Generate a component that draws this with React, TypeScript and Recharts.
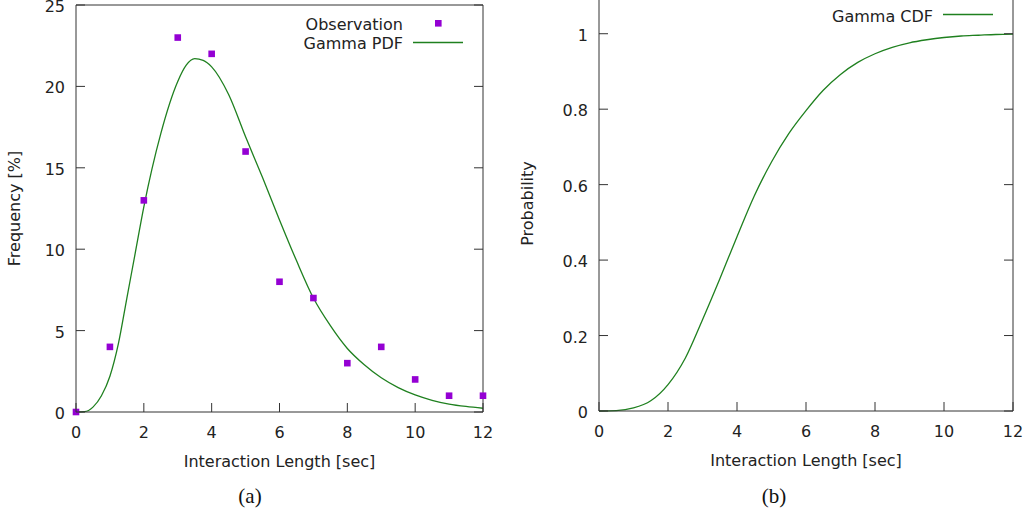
import React from 'react';
import { ComposedChart, Line, Scatter, XAxis, YAxis } from 'recharts';

// observed frequencies (%) per second of interaction length
const obsX = [0, 1, 2, 3, 4, 5, 6, 7, 8, 9, 10, 11, 12];
const obsFreq = [0, 4, 13, 23, 22, 16, 8, 7, 3, 4, 2, 1, 1];

// fitted gamma pdf (%)
const pdfX = [0, 0.25, 0.5, 0.75, 1, 1.25, 1.5, 1.75, 2, 2.5, 3, 3.25, 3.5, 3.75, 4, 4.5, 5, 5.5, 6, 6.5, 7, 7.5, 8, 8.5, 9, 9.5, 10, 10.5, 11, 11.5, 12];
const pdfY = [0, 0.02, 0.3, 1.0, 2.2, 4.2, 7.0, 9.8, 12.6, 17.1, 20.3, 21.3, 21.7, 21.6, 21.2, 19.5, 16.9, 14.4, 11.8, 9.3, 7.0, 5.3, 3.9, 2.9, 2.1, 1.5, 1.05, 0.72, 0.49, 0.34, 0.23];

// fitted gamma cdf
const cdfX = [0, 0.5, 1, 1.5, 2, 2.5, 3, 3.5, 4, 4.5, 5, 5.5, 6, 6.5, 7, 7.5, 8, 8.5, 9, 9.5, 10, 10.5, 11, 11.5, 12];
const cdfY = [0, 0.001, 0.008, 0.027, 0.07, 0.14, 0.242, 0.35, 0.462, 0.57, 0.66, 0.735, 0.796, 0.85, 0.892, 0.924, 0.947, 0.964, 0.976, 0.984, 0.99, 0.994, 0.996, 0.998, 0.999];

const xTicks = [0, 2, 4, 6, 8, 10, 12];
const freqTicks = [0, 5, 10, 15, 20, 25];
const probTicks = [0, 0.2, 0.4, 0.6, 0.8, 1];

const obsData = obsX.map((x, i) => ({ x, y: obsFreq[i] }));
const pdfData = pdfX.map((x, i) => ({ x, y: pdfY[i] }));
const cdfData = cdfX.map((x, i) => ({ x, y: cdfY[i] }));

const AXIS = '#333';
const GREEN = '#1f801f';
const PURPLE = '#9400d3';
const font = { fontFamily: '"DejaVu Sans"', fontSize: 16, fill: '#222' };

const BottomTick = ({ x, y, payload }: any) => (
  <g>
    <line x1={x} x2={x} y1={y} y2={y - 9} stroke={AXIS} />
    <text x={x} y={y + 26} textAnchor="middle" {...font}>{payload.value}</text>
  </g>
);
const TopTick = ({ x, y }: any) => <line x1={x} x2={x} y1={y} y2={y + 9} stroke={AXIS} />;
const LeftTick = ({ x, y, payload }: any) => (
  <g>
    <line x1={x} x2={x + 9} y1={y} y2={y} stroke={AXIS} />
    <text x={x - 11} y={y + 7} textAnchor="end" {...font}>{payload.value}</text>
  </g>
);
const RightTick = ({ x, y }: any) => <line x1={x} x2={x - 9} y1={y} y2={y} stroke={AXIS} />;

const Square = ({ cx, cy }: any) => <rect x={cx - 3.3} y={cy - 3.3} width={6.6} height={6.6} fill={PURPLE} />;

const xTitle = ({ viewBox }: any) => (
  <text x={viewBox.x + viewBox.width / 2} y={viewBox.y + 55} textAnchor="middle" {...font}>
    Interaction Length [sec]
  </text>
);
const yTitle = (text: string, dist: number) => ({ viewBox }: any) => {
  const cx = viewBox.x - dist;
  const cy = viewBox.y + viewBox.height / 2;
  return (
    <text x={cx} y={cy} transform={`rotate(-90, ${cx}, ${cy})`} textAnchor="middle" {...font}>
      {text}
    </text>
  );
};

// axes are 1px thick boxes (0 would hide them), margins account for that
const Frame = (yDomain: number[], yTicks: number[], title: any) => [
  <XAxis key="xb" xAxisId="b" dataKey="x" type="number" domain={[0, 12]} ticks={xTicks} interval={0}
    height={1} tickSize={0} tickMargin={0} tickLine={false} stroke={AXIS}
    tick={(p: any) => <BottomTick {...p} />} label={{ content: xTitle }} />,
  <XAxis key="xt" xAxisId="t" orientation="top" type="number" domain={[0, 12]} ticks={xTicks} interval={0}
    allowDataOverflow height={1} tickSize={0} tickMargin={0} tickLine={false} stroke={AXIS}
    tick={(p: any) => <TopTick {...p} />} />,
  <YAxis key="yl" yAxisId="l" type="number" domain={yDomain} ticks={yTicks} interval={0}
    width={1} tickSize={0} tickMargin={0} tickLine={false} stroke={AXIS}
    tick={(p: any) => <LeftTick {...p} />} label={{ content: title }} />,
  <YAxis key="yr" yAxisId="r" orientation="right" type="number" domain={yDomain} ticks={yTicks} interval={0}
    allowDataOverflow width={1} tickSize={0} tickMargin={0} tickLine={false} stroke={AXIS}
    tick={(p: any) => <RightTick {...p} />} />,
];

const PdfChart = () => (
  <ComposedChart width={500} height={480} margin={{ top: 4, left: 75, right: 16, bottom: 67 }}>
    {Frame([0, 25], freqTicks, yTitle('Frequency [%]', 55))}
    <Line data={pdfData} xAxisId="b" yAxisId="l" type="monotone" dataKey="y" stroke={GREEN}
      strokeWidth={1.3} dot={false} isAnimationActive={false} />
    <Scatter data={obsData} xAxisId="b" yAxisId="l" dataKey="y" shape={<Square />} isAnimationActive={false} />
  </ComposedChart>
);

const CdfChart = () => (
  <ComposedChart width={530} height={540} margin={{ top: 15, left: 98, right: 16, bottom: 108 }}>
    {Frame([0, 1.1], probTicks, yTitle('Probability', 65))}
    <Line data={cdfData} xAxisId="b" yAxisId="l" type="monotone" dataKey="y" stroke={GREEN}
      strokeWidth={1.3} dot={false} isAnimationActive={false} />
  </ComposedChart>
);

export default function App() {
  return (
    <div style={{ position: 'absolute', left: 0, top: 0, width: 1030, height: 515, overflow: 'hidden', background: '#fff' }}>
      <div style={{ position: 'absolute', left: 0, top: 0 }}>
        <PdfChart />
      </div>
      <div style={{ position: 'absolute', left: 500, top: -20 }}>
        <CdfChart />
      </div>
      {/* legends and captions */}
      <svg width={1030} height={515} style={{ position: 'absolute', left: 0, top: 0, pointerEvents: 'none' }}>
        <text x={403} y={30} textAnchor="end" {...font}>Observation</text>
        <rect x={435} y={20} width={6.6} height={6.6} fill={PURPLE} />
        <text x={403} y={49} textAnchor="end" {...font}>Gamma PDF</text>
        <line x1={413} x2={463} y1={42.5} y2={42.5} stroke={GREEN} strokeWidth={1.3} />
        <text x={933} y={21.5} textAnchor="end" {...font}>Gamma CDF</text>
        <line x1={943} x2={993} y1={14.5} y2={14.5} stroke={GREEN} strokeWidth={1.3} />
        <text x={250} y={502.5} textAnchor="middle" fontFamily='"Liberation Serif"' fontSize={21} fill="#111">(a)</text>
        <text x={774} y={502.5} textAnchor="middle" fontFamily='"Liberation Serif"' fontSize={21} fill="#111">(b)</text>
      </svg>
    </div>
  );
}
